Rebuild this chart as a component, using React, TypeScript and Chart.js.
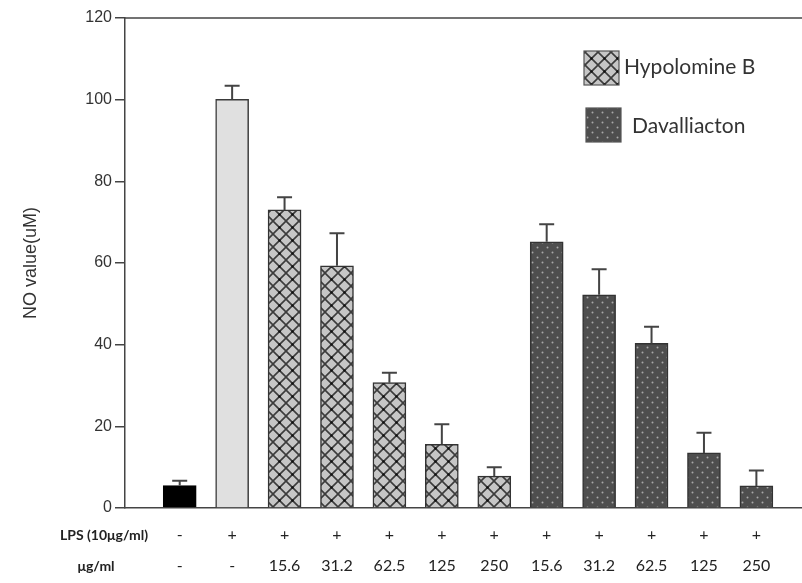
import React, { useEffect, useRef } from "react";
import { Chart, registerables } from "chart.js";

Chart.register(...registerables);

// ---- data ----
const positions = [1, 2, 3, 4, 5, 6, 7, 8, 9, 10, 11, 12];
const lpsRow = ["-", "+", "+", "+", "+", "+", "+", "+", "+", "+", "+", "+"];
const concRow = ["-", "-", "15.6", "31.2", "62.5", "125", "250", "15.6", "31.2", "62.5", "125", "250"];
const rowTitles = ["LPS (10μg/ml)", "μg/ml"];

const controlPos = [1, 2];
const controlValues = [5.5, 100.1];
const controlErr = [1.2, 3.3];

const hypPos = [3, 4, 5, 6, 7];
const hypValues = [73.0, 59.3, 30.7, 15.6, 7.8];
const hypErr = [3.1, 8.0, 2.4, 4.9, 2.2];

const davPos = [8, 9, 10, 11, 12];
const davValues = [65.2, 52.2, 40.3, 13.5, 5.4];
const davErr = [4.3, 6.3, 4.1, 4.9, 3.8];

const seriesNames = ["Control", "Hypolomine B", "Davalliacton"];
const yTitle = "NO value(uM)";

function makeCross(): CanvasPattern | string {
  const c = document.createElement("canvas");
  const s = 13;
  c.width = s;
  c.height = s;
  const g = c.getContext("2d");
  if (!g) return "#c4c4c4";
  g.fillStyle = "#c6c6c6";
  g.fillRect(0, 0, s, s);
  g.strokeStyle = "#3c3c3c";
  g.lineWidth = 1.6;
  g.beginPath();
  g.moveTo(-1, -1);
  g.lineTo(s + 1, s + 1);
  g.moveTo(s + 1, -1);
  g.lineTo(-1, s + 1);
  g.stroke();
  g.fillStyle = "#111";
  g.beginPath();
  g.arc(s / 2, s / 2, 1.3, 0, Math.PI * 2);
  g.fill();
  const p = g.createPattern(c, "repeat");
  return p || "#c4c4c4";
}

function makeDots(): CanvasPattern | string {
  const c = document.createElement("canvas");
  const s = 10;
  c.width = s;
  c.height = s;
  const g = c.getContext("2d");
  if (!g) return "#505050";
  g.fillStyle = "#4e4e4e";
  g.fillRect(0, 0, s, s);
  g.fillStyle = "#a8a8a8";
  g.beginPath();
  g.arc(2.5, 2.5, 1.0, 0, Math.PI * 2);
  g.arc(7.5, 7.5, 1.0, 0, Math.PI * 2);
  g.fill();
  const p = g.createPattern(c, "repeat");
  return p || "#505050";
}

export default function App() {
  const ref = useRef<HTMLCanvasElement | null>(null);

  useEffect(() => {
    const canvas = ref.current;
    if (!canvas) return;
    const cross = makeCross();
    const dots = makeDots();

    const toPts = (xs: number[], ys: number[]) => xs.map((x, i) => ({ x, y: ys[i] }));

    const errorBars = {
      id: "errorBars",
      afterDatasetsDraw(chart: any) {
        const ctx = chart.ctx;
        const ys = chart.scales.y;
        ctx.save();
        ctx.strokeStyle = "#444";
        ctx.lineWidth = 2;
        chart.data.datasets.forEach((ds: any, d: number) => {
          const meta = chart.getDatasetMeta(d);
          meta.data.forEach((el: any, i: number) => {
            const v = ds.data[i].y + ds.errors[i];
            const top = ys.getPixelForValue(v);
            ctx.beginPath();
            ctx.moveTo(el.x, el.y);
            ctx.lineTo(el.x, top);
            ctx.moveTo(el.x - 7.5, top);
            ctx.lineTo(el.x + 7.5, top);
            ctx.stroke();
          });
        });
        ctx.restore();
      },
    };

    const frame = {
      id: "frame",
      afterDraw(chart: any) {
        const ctx = chart.ctx;
        const a = chart.chartArea;
        ctx.save();
        ctx.strokeStyle = "#444";
        ctx.lineWidth = 1.5;
        ctx.beginPath();
        ctx.moveTo(a.left, a.top);
        ctx.lineTo(a.right, a.top);
        ctx.stroke();
        // row titles
        ctx.fillStyle = "#222";
        ctx.font = "bold 14px Lato, 'Open Sans', sans-serif";
        ctx.textAlign = "center";
        ctx.textBaseline = "middle";
        ctx.fillText(rowTitles[0], 104, 535);
        ctx.fillText(rowTitles[1], 96, 566);
        // legend
        const items = [
          { name: seriesNames[1], fill: chart.data.datasets[1].backgroundColor, bx: 584, by: 51, tx: 624, ty: 67 },
          { name: seriesNames[2], fill: chart.data.datasets[2].backgroundColor, bx: 586, by: 108, tx: 632, ty: 126 },
        ];
        items.forEach((it) => {
          ctx.fillStyle = it.fill;
          ctx.fillRect(it.bx, it.by, 35, 34);
          ctx.strokeStyle = "#555";
          ctx.lineWidth = 1.2;
          ctx.strokeRect(it.bx, it.by, 35, 34);
          ctx.fillStyle = "#333";
          ctx.font = "21px Lato, 'Open Sans', sans-serif";
          ctx.textAlign = "left";
          ctx.textBaseline = "middle";
          ctx.fillText(it.name, it.tx, it.ty);
        });
        ctx.restore();
      },
    };

    const chart = new Chart(canvas, {
      type: "bar",
      data: {
        datasets: [
          {
            label: seriesNames[0],
            data: toPts(controlPos, controlValues),
            errors: controlErr,
            backgroundColor: ["#000000", "#e0e0e0"],
            borderColor: ["#000000", "#3a3a3a"],
          } as any,
          {
            label: seriesNames[1],
            data: toPts(hypPos, hypValues),
            errors: hypErr,
            backgroundColor: cross,
            borderColor: "#333",
          } as any,
          {
            label: seriesNames[2],
            data: toPts(davPos, davValues),
            errors: davErr,
            backgroundColor: dots,
            borderColor: "#333",
          } as any,
        ],
      },
      options: {
        responsive: false,
        animation: false,
        devicePixelRatio: 1,
        layout: { padding: { top: 18, left: 0, right: 0, bottom: 0 } },
        datasets: {
          bar: {
            grouped: false,
            barThickness: 33,
            borderWidth: 1.5,
            borderSkipped: "bottom",
          },
        },
        plugins: {
          legend: { display: false },
          tooltip: { enabled: false },
        },
        scales: {
          x: {
            type: "linear",
            min: -0.0435,
            max: 12.87,
            offset: false,
            afterBuildTicks: (scale: any) => {
              scale.ticks = positions.map((v) => ({ value: v }));
            },
            afterFit: (scale: any) => {
              scale.height = 75;
            },
            grid: { display: false, drawTicks: false },
            border: { display: true, color: "#444", width: 1.5 },
            ticks: {
              autoSkip: false,
              maxRotation: 0,
              padding: 11.5,
              color: "#222",
              font: { family: "Lato, 'Open Sans', sans-serif", size: 16, lineHeight: "31px" } as any,
              callback: (value: any) => {
                const i = positions.indexOf(Number(value));
                return i >= 0 ? [lpsRow[i], concRow[i]] : "";
              },
            },
          },
          y: {
            min: 0,
            max: 120,
            afterFit: (scale: any) => {
              scale.width = 125;
            },
            grid: { display: true, drawOnChartArea: false, drawTicks: true, tickLength: 10, color: "#444", lineWidth: 1.5 },
            border: { display: true, color: "#444", width: 1.5 },
            ticks: {
              stepSize: 20,
              padding: 3,
              color: "#333",
              font: { family: "'Liberation Sans', Arial, sans-serif", size: 16 },
            },
            title: {
              display: true,
              text: yTitle,
              color: "#333",
              padding: { top: 20, bottom: 0 },
              font: { family: "'Liberation Sans', Arial, sans-serif", size: 18 },
            },
          },
        },
      } as any,
      plugins: [errorBars, frame],
    });

    return () => {
      chart.destroy();
    };
  }, []);

  return (
    <div style={{ position: "fixed", left: 0, top: 0, width: 802, height: 583, background: "#fff" }}>
      <canvas ref={ref} width={802} height={583} style={{ width: 802, height: 583, display: "block" }} />
    </div>
  );
}
